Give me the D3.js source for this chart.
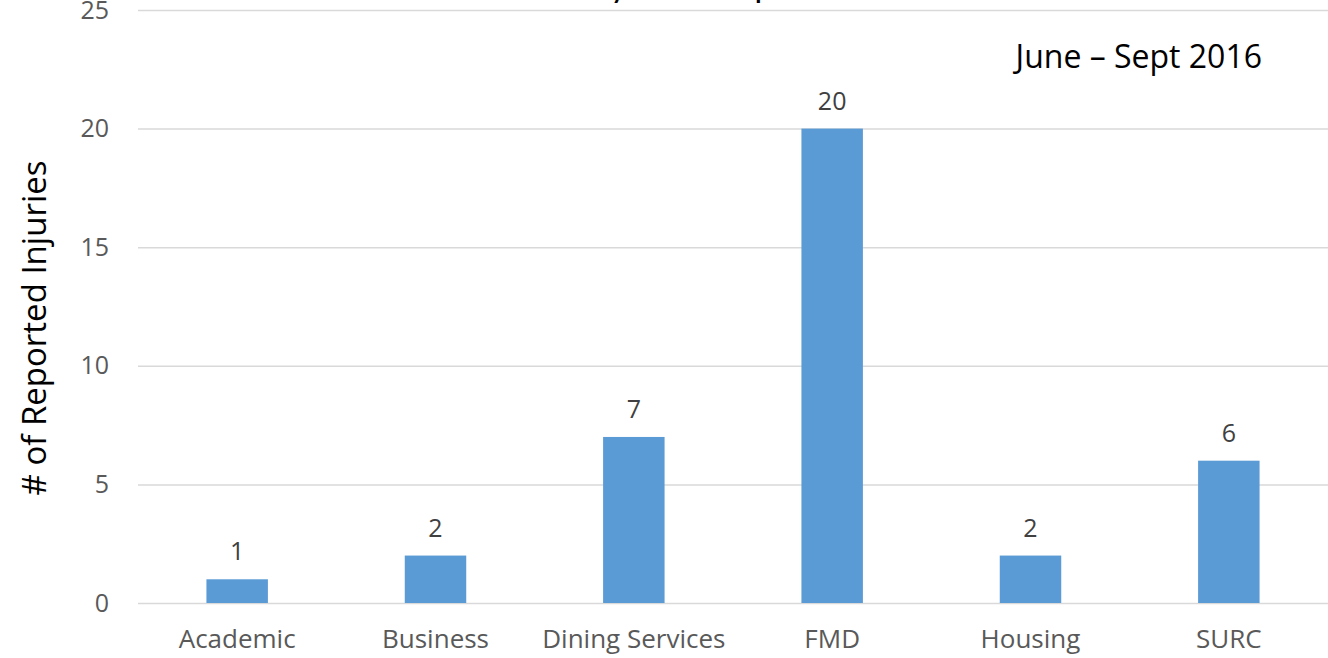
<!DOCTYPE html>
<html>
<head>
<meta charset="utf-8">
<script src="https://cdn.jsdelivr.net/npm/d3@7"></script>
<style>
  body { margin: 0; background: #fff; }
  text { font-family: "Open Sans", "Noto Sans", sans-serif; }
</style>
</head>
<body>
<svg id="chart"></svg>
<script>
// values
const departments = ['Academic', 'Business', 'Dining Services', 'FMD', 'Housing', 'SURC'];
const injuries = [1, 2, 7, 20, 2, 6];
const yTicks = [0, 5, 10, 15, 20, 25];
const chartTitle = 'Safety Incident Reports';
const period = 'June \u2013 Sept 2016';
const yTitle = '# of Reported Injuries';

const width = 1328;
const height = 658;

const svg = d3.select('#chart')
  .attr('width', width)
  .attr('height', height);

const x = d3.scaleBand()
  .domain(departments)
  .range([138, 1328])
  .paddingInner(0.69)
  .paddingOuter(0.345);

const y = d3.scaleLinear()
  .domain([0, 25])
  .range([603, 10]);

// gridlines + y labels
const yAxis = svg.append('g')
  .attr('transform', 'translate(138,0)')
  .call(d3.axisLeft(y).tickValues(yTicks).tickSize(-1190).tickPadding(29));
yAxis.select('.domain').remove();
yAxis.selectAll('.tick line').attr('stroke', '#d9d9d9').attr('stroke-width', 1.5);
yAxis.selectAll('.tick text')
  .attr('fill', '#595959')
  .style('font-size', '25px');

// x labels
const xAxis = svg.append('g')
  .attr('transform', 'translate(0,603)')
  .call(d3.axisBottom(x).tickSize(0).tickPadding(27));
xAxis.select('.domain').remove();
xAxis.selectAll('.tick text')
  .attr('fill', '#595959')
  .style('font-size', '26px');

// bars
svg.append('g')
  .selectAll('rect')
  .data(injuries)
  .join('rect')
  .attr('x', (d, i) => x(departments[i]))
  .attr('y', d => y(d))
  .attr('width', x.bandwidth())
  .attr('height', d => y(0) - y(d))
  .attr('fill', '#5b9bd5');

// value labels
svg.append('g')
  .selectAll('text')
  .data(injuries)
  .join('text')
  .attr('x', (d, i) => x(departments[i]) + x.bandwidth() / 2)
  .attr('y', d => y(d) - 19)
  .attr('text-anchor', 'middle')
  .attr('fill', '#404040')
  .style('font-size', '25px')
  .text(d => d);

// title, mostly cut off at the top like in the original
svg.append('text')
  .attr('x', 684)
  .attr('y', -1)
  .attr('text-anchor', 'middle')
  .attr('fill', '#000')
  .style('font-family', 'Lato, sans-serif')
  .style('font-size', '25px')
  .style('font-weight', 'bold')
  .text(chartTitle);

svg.append('text')
  .attr('x', 1262)
  .attr('y', 68)
  .attr('text-anchor', 'end')
  .attr('fill', '#000')
  .style('font-size', '32px')
  .text(period);

svg.append('text')
  .attr('transform', 'translate(46,328) rotate(-90)')
  .attr('text-anchor', 'middle')
  .attr('fill', '#000')
  .style('font-size', '33px')
  .text(yTitle);
</script>
</body>
</html>
